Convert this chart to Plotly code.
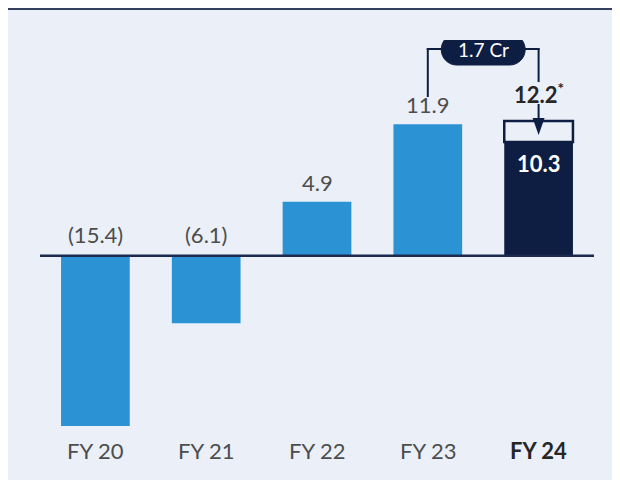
import plotly.graph_objects as go

# ---- data ----
categories = ["FY 20", "FY 21", "FY 22", "FY 23", "FY 24"]
values = [-15.4, -6.1, 4.9, 11.9, 10.3]
value_labels = ["(15.4)", "(6.1)", "4.9", "11.9", "10.3"]
fy24_reported = 12.2
fy24_reported_label = "12.2<sup>*</sup>"
gap_label = "1.7 Cr"

# ---- styles ----
BLUE = "#2B92D4"
NAVY = "#0E1E42"
BG = "#EBEFF8"
TXT = "#4D4D4D"
FONT = "Lato"

W, H = 620, 480
ML, MR, MT, MB = 32, 34, 32, 58
PH = H - MT - MB
YMIN, YMAX = -15.76, 19.53

xpos = list(range(len(categories)))
colors = [BLUE] * (len(values) - 1) + [NAVY]

fig = go.Figure()
fig.add_trace(go.Bar(x=xpos, y=values, marker=dict(color=colors, line=dict(width=0)),
                     width=0.62, hoverinfo="skip"))
# outlined top part of FY24 (reported minus underlying)
fig.add_trace(go.Bar(x=[xpos[-1]], y=[fy24_reported - values[-1]], base=[values[-1]],
                     marker=dict(color=BG, line=dict(color=NAVY, width=2.5)),
                     width=0.62, hoverinfo="skip"))

shapes = []
# top border line of the panel
top_y = (H - MB - 1) / PH
shapes.append(dict(type="line", xref="paper", yref="paper", x0=-1, x1=2,
                   y0=top_y, y1=top_y, line=dict(color="#34405E", width=2), layer="below"))
# zero line
shapes.append(dict(type="line", xref="paper", yref="y", x0=0, x1=1, y0=0, y1=0,
                   line=dict(color="#1B2A4E", width=2.5)))

LC = dict(color=NAVY, width=2)
i23, i24 = 3, 4
mid = (i23 + i24) / 2
# bracket
shapes.append(dict(type="line", xref="x", yref="y", ysizemode="pixel", yanchor=fy24_reported,
                   x0=i23, x1=i23, y0=24, y1=72, line=LC))
shapes.append(dict(type="line", xref="x", yref="y", ysizemode="pixel", yanchor=fy24_reported,
                   x0=i23 - 0.01, x1=mid, y0=72, y1=72, line=LC))
shapes.append(dict(type="line", xref="x", yref="y", ysizemode="pixel", yanchor=fy24_reported,
                   x0=mid, x1=i24 + 0.01, y0=72, y1=72, line=LC))
shapes.append(dict(type="line", xref="x", yref="y", ysizemode="pixel", yanchor=fy24_reported,
                   x0=i24, x1=i24, y0=72, y1=39, line=LC))
# arrow down into the FY24 box
shapes.append(dict(type="line", xref="x", yref="y", ysizemode="pixel", yanchor=fy24_reported,
                   x0=i24, x1=i24, y0=17, y1=2, line=LC))
shapes.append(dict(type="path", xref="x", yref="y", xsizemode="pixel", ysizemode="pixel",
                   xanchor=i24, yanchor=fy24_reported,
                   path="M -6,3 L 6,3 L 0,-14 Z", fillcolor=NAVY, line=dict(width=0)))
# pill
cy, hh, hw, r = 71.5, 15.5, 42, 15.5
k = 0.55 * r
pill = (f"M {-hw + r},{cy + hh} L {hw - r},{cy + hh} "
        f"C {hw - r + k},{cy + hh} {hw},{cy + k} {hw},{cy} "
        f"C {hw},{cy - k} {hw - r + k},{cy - hh} {hw - r},{cy - hh} "
        f"L {-hw + r},{cy - hh} "
        f"C {-hw + r - k},{cy - hh} {-hw},{cy - k} {-hw},{cy} "
        f"C {-hw},{cy + k} {-hw + r - k},{cy + hh} {-hw + r},{cy + hh} Z")
shapes.append(dict(type="path", xref="x", yref="y", xsizemode="pixel", ysizemode="pixel",
                   xanchor=mid, yanchor=fy24_reported, path=pill,
                   fillcolor=NAVY, line=dict(color=NAVY, width=1)))

annotations = []
for i, (v, lab) in enumerate(zip(values, value_labels)):
    if i == len(values) - 1:
        annotations.append(dict(x=i, y=v, text=f"<b>{lab}</b>", showarrow=False,
                                yanchor="top", yshift=-6,
                                font=dict(family=FONT, size=22, color="white")))
    elif v < 0:
        annotations.append(dict(x=i, y=0, text=lab, showarrow=False, yanchor="bottom",
                                yshift=6, font=dict(family=FONT, size=22, color=TXT)))
    else:
        annotations.append(dict(x=i, y=v, text=lab, showarrow=False, yanchor="bottom",
                                yshift=4, font=dict(family=FONT, size=22, color=TXT)))
annotations.append(dict(x=i24, y=fy24_reported, text=f"<b>{fy24_reported_label}</b>",
                        showarrow=False, yanchor="bottom", yshift=11,
                        font=dict(family=FONT, size=22, color="#262626")))
annotations.append(dict(x=mid, y=fy24_reported, text=gap_label, showarrow=False,
                        yanchor="middle", yshift=cy,
                        font=dict(family=FONT, size=19, color="white")))
for i, c in enumerate(categories):
    last = i == len(categories) - 1
    annotations.append(dict(x=i, y=0, xref="x", yref="paper", yanchor="middle", yshift=-20,
                            text=f"<b>{c}</b>" if last else c, showarrow=False,
                            font=dict(family=FONT, size=22, color="#262626" if last else TXT)))

fig.update_layout(
    width=W, height=H, margin=dict(l=ML, r=MR, t=MT, b=MB),
    paper_bgcolor=BG, plot_bgcolor="rgba(0,0,0,0)",
    barmode="overlay", showlegend=False,
    xaxis=dict(range=[-0.5, len(categories) - 0.5], visible=False, fixedrange=True),
    yaxis=dict(range=[YMIN, YMAX], visible=False, fixedrange=True),
    shapes=shapes, annotations=annotations,
)

fig.write_html("out.html")
